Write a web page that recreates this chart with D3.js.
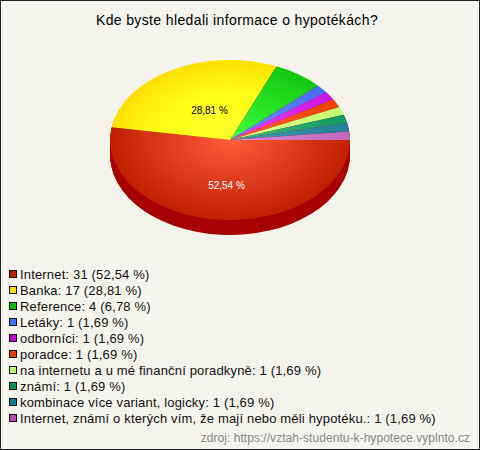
<!DOCTYPE html>
<html><head><meta charset="utf-8">
<script src="https://cdn.jsdelivr.net/npm/d3@7"></script>
<style>html,body{margin:0;padding:0;background:#f5f4ec}svg{display:block}text{font-family:"Liberation Sans",Arial,sans-serif}</style>
</head><body><div id="c"></div>
<script>
const title = "Kde byste hledali informace o hypotékách?";
const source = "zdroj: https://vztah-studentu-k-hypotece.vyplnto.cz";
const categories = ["Internet","Banka","Reference","Letáky","odborníci","poradce","na internetu a u mé finanční poradkyně","známí","kombinace více variant, logicky","Internet, známí o kterých vím, že mají nebo měli hypotéku."];
const counts = [31,17,4,1,1,1,1,1,1,1];
const percents = ["52,54","28,81","6,78","1,69","1,69","1,69","1,69","1,69","1,69","1,69"];
const edgeColors = ["#c02000","#ffe000","#10c810","#4a6cff","#c818e0","#f04008","#c0ff70","#109860","#208098","#c068c0"];
const midColors = [null,"#ffff18",null,null,null,null,null,null,null,null];
const centerColors = ["#ff5c3c","#ffff30","#40ff40","#7090ff","#f040ff","#ff6030","#e0ff90","#40c080","#40a0b8","#e088e0"];
const legendColors = ["#c02000","#ffe000","#00c000","#4070ff","#c000d0","#e04000","#c0ff70","#009050","#107890","#b050b0"];
const wallColor = "#a80000";
const W=480,H=450,cx=230,cy=140,rx=120,ry=80,depth=15;
const svg=d3.select("#c").append("svg").attr("width",W).attr("height",H);
svg.append("rect").attr("x",.5).attr("y",.5).attr("width",W-1).attr("height",H-1).attr("fill","#f5f4ec").attr("stroke","#222");
svg.append("text").attr("x",237).attr("y",25).attr("text-anchor","middle").attr("font-size",14).attr("letter-spacing",.37).attr("fill","#000").text(title);
const defs=svg.append("defs");
const pie=d3.pie().sort(null).startAngle(Math.PI/2).endAngle(Math.PI*2.5)(counts);
const arc=d3.arc().innerRadius(0).outerRadius(rx);
pie.forEach((d,i)=>{
  const g=defs.append("radialGradient").attr("id","g"+i).attr("gradientUnits","userSpaceOnUse").attr("cx",0).attr("cy",0).attr("r",rx);
  g.append("stop").attr("offset",0).attr("stop-color",centerColors[i]);
  if(midColors[i]) g.append("stop").attr("offset",.55).attr("stop-color",midColors[i]);
  g.append("stop").attr("offset",1).attr("stop-color",edgeColors[i]);
});
const k=ry/rx;
d3.range(depth,0,-1).forEach(o=>{
  svg.append("g").attr("transform",`translate(${cx},${cy+o}) scale(1,${k})`)
    .selectAll("path").data(pie).join("path").attr("d",arc).attr("fill",wallColor);
});
svg.append("g").attr("transform",`translate(${cx},${cy}) scale(1,${k})`)
  .selectAll("path").data(pie).join("path").attr("d",arc).attr("fill",(d,i)=>`url(#g${i})`);
const lab=(x,y,t,c)=>svg.append("text").attr("x",x).attr("y",y).attr("text-anchor","middle").attr("font-size",10).attr("fill",c).text(t);
lab(209.5,114,percents[1]+" %","#000");
lab(226.5,189,percents[0]+" %","#fff");
const rowY=d3.scalePoint().domain(d3.range(categories.length)).range([274,418]);
const lg=svg.append("g").selectAll("g").data(categories).join("g").attr("transform",(d,i)=>`translate(0,${rowY(i)})`);
lg.append("rect").attr("x",9.5).attr("y",-3.5).attr("width",7).attr("height",7).attr("fill",(d,i)=>legendColors[i]).attr("stroke","#111");
lg.append("text").attr("x",20).attr("y",5).attr("font-size",13).attr("letter-spacing",.17).attr("fill","#111").text((d,i)=>`${d}: ${counts[i]} (${percents[i]} %)`);
svg.append("text").attr("x",470).attr("y",442).attr("text-anchor","end").attr("font-size",12).attr("letter-spacing",.05).attr("fill","#888").text(source);
</script></body></html>
